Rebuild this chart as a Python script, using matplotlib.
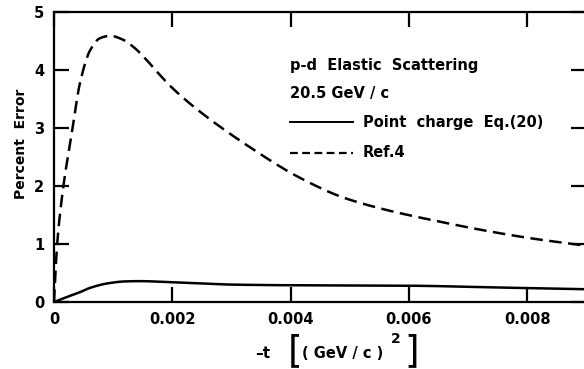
import numpy as np
import matplotlib
matplotlib.use("Agg")
import matplotlib.pyplot as plt

# values
t_ref4 = [0.0, 0.00005, 0.00015, 0.0003, 0.00044, 0.00061, 0.00078, 0.00095, 0.00115, 0.00134,
          0.00155, 0.00174, 0.002, 0.00247, 0.00331, 0.00416, 0.00495, 0.00664, 0.00805, 0.009]
err_ref4 = [0.0, 0.95, 1.93, 2.91, 3.78, 4.34, 4.55, 4.59, 4.53, 4.40,
            4.19, 3.97, 3.69, 3.28, 2.67, 2.14, 1.78, 1.36, 1.10, 0.97]

t_point = [0.0, 0.0002, 0.00044, 0.0006, 0.0009, 0.0012, 0.00145, 0.0019, 0.003, 0.00383,
           0.00607, 0.0075, 0.009]
err_point = [0.0, 0.08, 0.17, 0.24, 0.32, 0.355, 0.36, 0.345, 0.30, 0.29,
             0.28, 0.25, 0.22]

x_ticks = [0, 0.002, 0.004, 0.006, 0.008]
x_labels = ["0", "0.002", "0.004", "0.006", "0.008"]
y_ticks = [0, 1, 2, 3, 4, 5]

plt.rcParams["font.family"] = ["DejaVu Sans"]
plt.rcParams["font.weight"] = "bold"

W, H = 584, 369
fig = plt.figure(figsize=(W / 100, H / 100), dpi=100)
ax = fig.add_axes([54 / W, 67 / H, 532.4 / W, 290 / H])


def smooth(xs, ys, n=500):
    # monotone cubic interpolation through the read points
    xs = np.asarray(xs, dtype=float)
    ys = np.asarray(ys, dtype=float)
    xx = np.linspace(xs[0], xs[-1], n)
    h = np.diff(xs)
    d = np.diff(ys) / h
    m = np.zeros_like(ys)
    m[0] = d[0]
    m[-1] = d[-1]
    for i in range(1, len(xs) - 1):
        if d[i - 1] * d[i] <= 0:
            m[i] = 0
        else:
            w1 = 2 * h[i] + h[i - 1]
            w2 = h[i] + 2 * h[i - 1]
            m[i] = (w1 + w2) / (w1 / d[i - 1] + w2 / d[i])
    idx = np.clip(np.searchsorted(xs, xx) - 1, 0, len(xs) - 2)
    s = (xx - xs[idx]) / h[idx]
    h00 = 2 * s**3 - 3 * s**2 + 1
    h10 = s**3 - 2 * s**2 + s
    h01 = -2 * s**3 + 3 * s**2
    h11 = s**3 - s**2
    return xx, h00 * ys[idx] + h10 * h[idx] * m[idx] + h01 * ys[idx + 1] + h11 * h[idx] * m[idx + 1]


xr, yr = smooth(t_ref4, err_ref4)
xp, yp = smooth(t_point, err_point)
ax.plot(xr, yr, color="black", lw=1.8, dashes=(5, 2.6))
ax.plot(xp, yp, color="black", lw=1.8)

ax.set_xlim(0, 0.009)
ax.set_ylim(0, 5)
ax.set_xticks(x_ticks)
ax.set_xticklabels(x_labels)
ax.set_yticks(y_ticks)
ax.tick_params(direction="in", length=11, width=1.6, top=True, right=True,
               labelsize=10.5, pad=7)
for lab in ax.get_xticklabels() + ax.get_yticklabels():
    lab.set_fontweight("bold")
for sp in ax.spines.values():
    sp.set_linewidth(1.6)

fig.text(21 / W, 1 - 144 / H, "Percent  Error", fontsize=10, fontweight="bold",
         rotation=90, ha="center", va="center")

# x axis label: -t [ (GeV/c)^2 ]
fig.text(255 / W, 1 - 353 / H, "\u2013t", fontsize=11, fontweight="bold", ha="left", va="center")
fig.text(288 / W, 1 - 351 / H, "[", fontsize=27, fontweight="normal", ha="left", va="center")
fig.text(302 / W, 1 - 353 / H, "( GeV / c )", fontsize=10.5, fontweight="bold", ha="left", va="center")
fig.text(391 / W, 1 - 339 / H, "2", fontsize=10, fontweight="bold", ha="left", va="center")
fig.text(404 / W, 1 - 351 / H, "]", fontsize=27, fontweight="normal", ha="left", va="center")

# annotation block
fs = 10.5
ax.text(0.00399, 4.08, "p-d  Elastic  Scattering", fontsize=fs, fontweight="bold", va="center")
ax.text(0.00399, 3.60, "20.5 GeV / c", fontsize=fs, fontweight="bold", va="center")
ax.plot([0.00399, 0.00505], [3.10, 3.10], color="black", lw=1.4)
ax.text(0.00522, 3.10, "Point  charge  Eq.(20)", fontsize=fs, fontweight="bold", va="center")
ax.plot([0.00399, 0.00505], [2.57, 2.57], color="black", lw=1.6, dashes=(3.5, 2))
ax.text(0.00522, 2.57, "Ref.4", fontsize=fs, fontweight="bold", va="center")

fig.savefig("out.png", dpi=100)
